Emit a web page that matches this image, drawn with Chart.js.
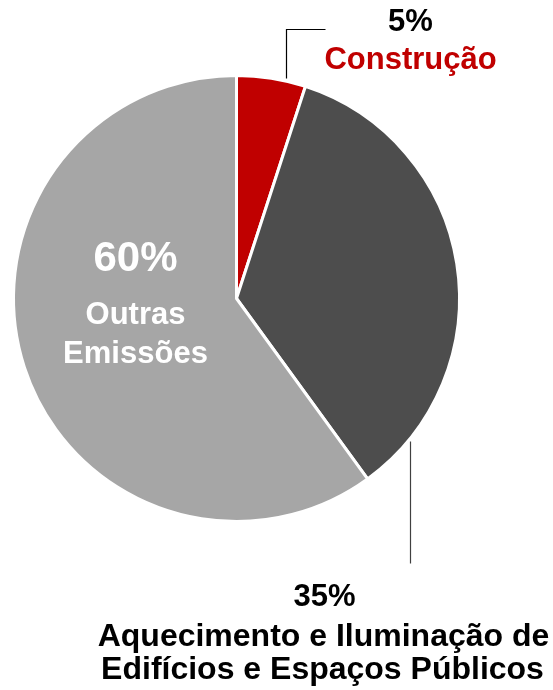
<!DOCTYPE html>
<html lang="pt">
<head>
<meta charset="UTF-8">
<title>Emissões</title>
<style>
  body { margin: 0; background: #fff; }
  canvas { display: block; }
</style>
</head>
<body>
<canvas id="pie" width="553" height="690"></canvas>
<script src="https://cdn.jsdelivr.net/npm/chart.js"></script>
<script>
const categories = ['Construção', 'Aquecimento e Iluminação de Edifícios e Espaços Públicos', 'Outras Emissões'];
const values = [5, 35, 60];
const colors = ['#C00000', '#4D4D4D', '#A6A6A6'];

const FONT = '"Liberation Sans", Arial, sans-serif';

// label text + leader lines, positioned relative to the pie
const labelPlugin = {
  id: 'labels',
  afterDraw(chart) {
    const ctx = chart.ctx;
    const arc = chart.getDatasetMeta(0).data[0];
    const cx = arc.x, cy = arc.y, r = arc.outerRadius;
    ctx.save();
    ctx.textAlign = 'center';
    ctx.textBaseline = 'alphabetic';

    // Construção
    ctx.strokeStyle = '#000';
    ctx.lineWidth = 1.2;
    ctx.beginPath();
    ctx.moveTo(cx + 50, cy - r + 3);
    ctx.lineTo(cx + 50, cy - 269);
    ctx.lineTo(cx + 89, cy - 269);
    ctx.stroke();
    ctx.font = 'bold 31px ' + FONT;
    ctx.fillStyle = '#000';
    ctx.fillText(values[0] + '%', cx + 174, cy - 268);
    ctx.fillStyle = colors[0];
    ctx.fillText(categories[0], cx + 174, cy - 230);

    // Aquecimento...
    ctx.strokeStyle = '#404040';
    ctx.beginPath();
    ctx.moveTo(cx + 174, cy + 143);
    ctx.lineTo(cx + 174, cy + 265);
    ctx.stroke();
    ctx.fillStyle = '#000';
    ctx.font = 'bold 31px ' + FONT;
    ctx.fillText(values[1] + '%', cx + 88, cy + 307);
    ctx.font = 'bold 32px ' + FONT;
    ctx.fillText('Aquecimento e Iluminação de', cx + 87, cy + 347);
    ctx.fillText('Edifícios e Espaços Públicos', cx + 86, cy + 380);

    // Outras
    ctx.fillStyle = '#fff';
    ctx.font = 'bold 42px ' + FONT;
    ctx.fillText(values[2] + '%', cx - 101, cy - 28);
    ctx.font = 'bold 31px ' + FONT;
    ctx.fillText('Outras', cx - 101, cy + 25);
    ctx.fillText('Emissões', cx - 101, cy + 64);
    ctx.restore();
  }
};

new Chart(document.getElementById('pie').getContext('2d'), {
  type: 'pie',
  data: {
    labels: categories,
    datasets: [{
      data: values,
      backgroundColor: colors,
      borderColor: '#fff',
      borderWidth: 3
    }]
  },
  options: {
    responsive: false,
    animation: false,
    layout: { padding: { left: 12, top: 74, right: 92, bottom: 167 } },
    plugins: {
      legend: { display: false },
      tooltip: { enabled: false }
    }
  },
  plugins: [labelPlugin]
});
</script>
</body>
</html>
